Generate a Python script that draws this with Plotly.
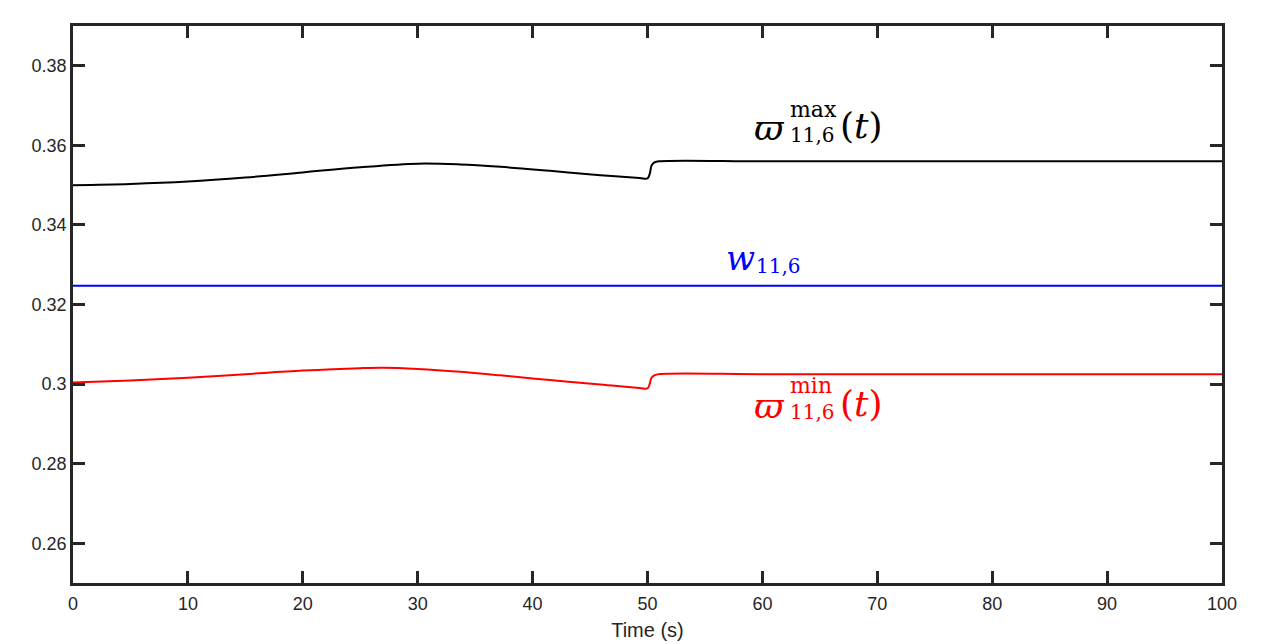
import plotly.graph_objects as go

# Data
t_max = [0, 5, 10, 15, 20, 25, 30, 33.7, 37.2, 41.5, 45.9, 49.3, 50, 50.2, 50.35, 50.6, 51, 60, 70, 80, 90, 100]
w_max = [0.3500, 0.3503, 0.3509, 0.3519, 0.3532, 0.3545, 0.3554, 0.3552, 0.3546, 0.3536, 0.3525, 0.3518, 0.3517,
         0.3529, 0.3549, 0.3557, 0.3560, 0.3560, 0.3560, 0.3560, 0.3560, 0.3560]
t_min = [0, 5, 10, 15, 20, 25, 27, 30, 33.7, 37.2, 41.5, 45.9, 49.3, 50, 50.2, 50.35, 50.6, 51, 60, 70, 80, 90, 100]
w_min = [0.3004, 0.3009, 0.3016, 0.3025, 0.3034, 0.3040, 0.3041, 0.3038, 0.3031, 0.3022, 0.3010, 0.2999, 0.2990, 0.2989,
         0.3001, 0.3016, 0.3022, 0.3025, 0.3025, 0.3025, 0.3025, 0.3025, 0.3025]
t_w = [0, 100]
w_val = [0.3247, 0.3247]

y_ticks = [0.26, 0.28, 0.30, 0.32, 0.34, 0.36, 0.38]
y_ticktext = ["0.26", "0.28", "0.3", "0.32", "0.34", "0.36", "0.38"]
x_ticks = [0, 10, 20, 30, 40, 50, 60, 70, 80, 90, 100]

fig = go.Figure()
fig.add_trace(go.Scatter(x=t_max, y=w_max, mode="lines", line=dict(color="black", width=2, shape="spline", smoothing=1.0)))
fig.add_trace(go.Scatter(x=t_w, y=w_val, mode="lines", line=dict(color="#0000ff", width=2)))
fig.add_trace(go.Scatter(x=t_min, y=w_min, mode="lines", line=dict(color="#ff0000", width=2, shape="spline", smoothing=1.0)))

axis_col = "#262626"
serif = "DejaVu Serif"

def ann(x, y, text, color, size, xanchor="center", italic=True):
    fig.add_annotation(x=x, y=y, xref="x", yref="y", text=(f"<i>{text}</i>" if italic else text),
                       showarrow=False, xanchor=xanchor, yanchor="middle",
                       font=dict(family=serif, size=size, color=color))

# max label
ann(60.66, 0.3646, "ϖ", "black", 36)
ann(62.2, 0.3690, "max", "black", 22, "left", italic=False)
ann(62.2, 0.3625, "11,6", "black", 20, "left", italic=False)
ann(68.6, 0.3651, "(<i>t</i>)", "black", 36, "center", italic=False)
# w label
ann(58.1, 0.3317, "w", "#0000ff", 34)
ann(59.3, 0.3298, "11,6", "#0000ff", 20, "left", italic=False)
# min label
ann(60.66, 0.2947, "ϖ", "#ff0000", 36)
ann(62.2, 0.2997, "min", "#ff0000", 22, "left", italic=False)
ann(62.2, 0.2929, "11,6", "#ff0000", 20, "left", italic=False)
ann(68.6, 0.2952, "(<i>t</i>)", "#ff0000", 36, "center", italic=False)

fig.update_layout(
    width=1284, height=644,
    margin=dict(l=65, r=70, t=18, b=69),
    paper_bgcolor="white", plot_bgcolor="white",
    showlegend=False,
    font=dict(family="Liberation Sans, Arial", size=18, color=axis_col),
)
fig.update_xaxes(range=[0, 100], tickvals=x_ticks, showgrid=False, zeroline=False,
                 showline=True, linecolor=axis_col, linewidth=2.5, mirror="ticks",
                 ticks="inside", ticklen=12, tickwidth=2.5, tickcolor=axis_col,
                 tickfont=dict(size=18, color=axis_col), ticklabelstandoff=3,
                 title=dict(text="Time (s)", font=dict(size=20, color=axis_col), standoff=10))
fig.update_yaxes(range=[0.25, 0.39], tickvals=y_ticks, ticktext=y_ticktext, showgrid=False, zeroline=False,
                 showline=True, linecolor=axis_col, linewidth=2.5, mirror="ticks",
                 ticks="inside", ticklen=12, tickwidth=2.5, tickcolor=axis_col,
                 tickfont=dict(size=18, color=axis_col))

fig.write_html("out.html")
